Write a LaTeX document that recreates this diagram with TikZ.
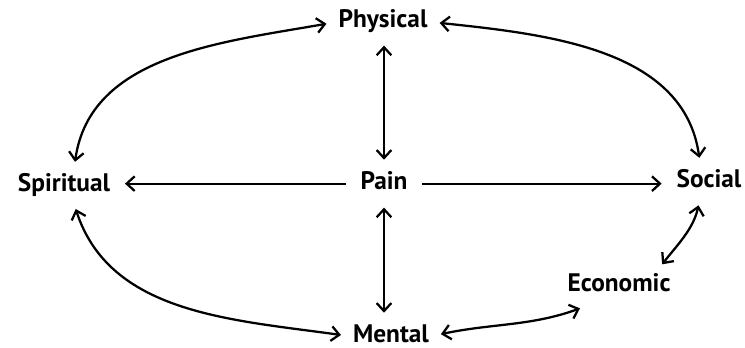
\documentclass[tikz,border=0pt]{standalone}
\usepackage{fontspec}
\setmainfont{PT Sans}
\usetikzlibrary{arrows.meta}
\tikzset{
  dim label/.style={font=\bfseries\fontsize{19}{22}\selectfont,inner sep=0pt,anchor=base,text height=13.5pt,text depth=4pt},
  dim link/.style={line width=1.7pt,{Straight Barb[length=6pt,width=11pt]}-{Straight Barb[length=6pt,width=11pt]},shorten <=9pt,shorten >=9pt},
  dim ray/.style={line width=1.7pt,-{Straight Barb[length=6pt,width=11pt]},shorten <=11pt,shorten >=11pt}
}
\begin{document}
\begin{tikzpicture}[x=.75pt,y=.75pt]
  \useasboundingbox (0,0) rectangle (745,348);
  \node[dim label] (phys) at (383,320) {Physical};
  \node[dim label] (pain) at (384,158) {Pain};
  \node[dim label] (spir) at (64,156) {Spiritual};
  \node[dim label] (soc) at (709,160) {Social};
  \node[dim label] (econ) at (619,56) {Economic};
  \node[dim label] (ment) at (391,5) {Mental};
  \draw[dim ray] (pain.west) -- (pain.west -| spir.east);
  \draw[dim ray] (pain.east) -- (pain.east -| soc.west);
  \draw[dim link] (pain.north) -- (pain.north |- phys.south);
  \draw[dim link] (pain.south) -- (pain.south |- ment.north);
  \draw[dim link] (phys.west) to[out=190,in=82] ([xshift=7pt]spir.north);
  \draw[dim link] (phys.east) to[out=-6,in=98] ([xshift=-6pt]soc.north);
  \draw[dim link] ([xshift=6pt]spir.south) to[out=-72,in=172] (ment.west);
  \draw[dim link] (ment.east) to[out=12,in=200] ([xshift=18pt,yshift=-5pt]econ.south west);
  \draw[dim link] ([xshift=-6pt]soc.south) to[out=-102,in=52] ([xshift=-12pt]econ.north east);
\end{tikzpicture}
\end{document}
